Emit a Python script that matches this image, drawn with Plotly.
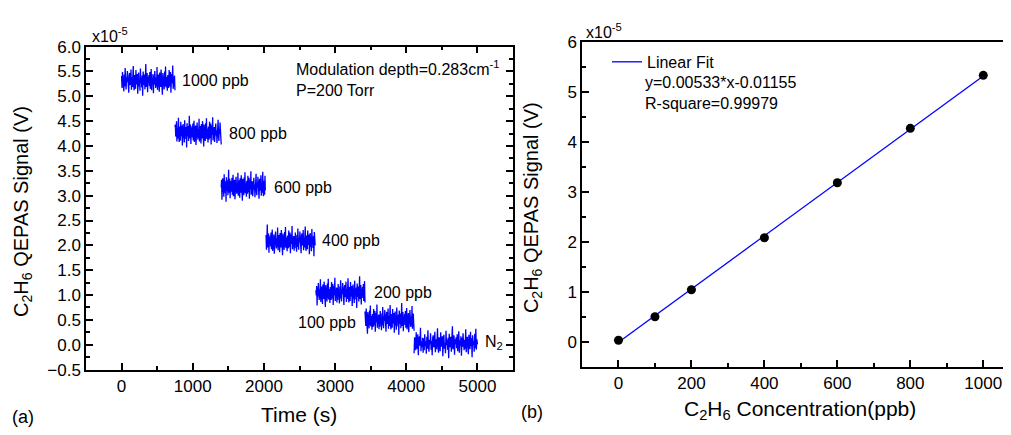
import plotly.graph_objects as go

# page body has an 8px default margin; figure is sized to fill the rest of the window
OFF = 8
W, H = 1011 - OFF, 435 - OFF

# ---------------- data ----------------
# Panel (a): time series segments (concentration steps)
seg_labels = ["1000 ppb", "800 ppb", "600 ppb", "400 ppb", "200 ppb", "100 ppb", "N<sub>2</sub>"]
seg_start = [0, 750, 1400, 2030, 2730, 3420, 4110]        # s
seg_end = [750, 1400, 2020, 2720, 3420, 4110, 5000]       # s
seg_mean = [5.31, 4.27, 3.18, 2.08, 1.04, 0.50, 0.03]     # x1e-5 V
# hand-typed noise deviations (x0.01 of 1e-5 V)
noise = [10, -14, 18, -6, 4, -21, 13, -11, 26, -5, -17, 7, -2, 20, -13, 5, -24, 11, 16, -8,
         -4, 23, -18, 8, -12, 2, 30, -10, -19, 12, 6, -16, 22, -7, -1, 14, -26, 10, 17, -11,
         1, -20, 25, -4, 7, -13, 11, -30, 19, 4, -8, 13, -17, 5, 34, -12, -6, 16, -23, 8,
         -2, 12, -10, 18, -16, 2, 24, -19, 6, -5, 14, -25, 11, -7, 20, -1, -14, 7, -11, 28,
         -18, 4, 13, -8, -22, 17, 0, -12, 23, -6, 10, -28, 16, -4, 5, -17, 19, -10, 29, -13,
         8, -2, -20, 12, 1, -14, 22, -7, -11, 18, -24, 6, 14, -5, 31, -16, 4, -8, 11, -19]
# label positions (data coords)
lab_x = [815, 1475, 2120, 2795, 3525, 3315, 5084]
lab_y = [5.31, 4.25, 3.17, 2.10, 1.06, 0.44, 0.04]
lab_anchor = ["left", "left", "left", "left", "left", "right", "left"]

# Panel (b): calibration
conc = [0, 100, 200, 400, 600, 800, 1000]                 # ppb
signal = [0.03, 0.50, 1.04, 2.08, 3.18, 4.27, 5.33]       # x1e-5 V
fit_slope = 0.00533
fit_intercept = -0.01155
fit_x = [0, 1000]

# ---------------- figure ----------------
def px(x):
    return (x - OFF) / W

def py(y):
    return 1 - (y - OFF) / H

FONT = "Arial, Liberation Sans, sans-serif"
BLUE = "#0000FF"

fig = go.Figure()

n = len(noise)
for k in range(len(seg_mean)):
    t0, t1 = seg_start[k], seg_end[k]
    xs = [t0 + (t1 - t0) * i / (n - 1) for i in range(n)]
    ys = [seg_mean[k] + 0.01 * noise[(i + 17 * k) % n] for i in range(n)]
    fig.add_trace(go.Scatter(x=xs, y=ys, mode="lines", line=dict(color=BLUE, width=1.3),
                             xaxis="x", yaxis="y", showlegend=False, hoverinfo="skip"))

fig.add_trace(go.Scatter(x=fit_x, y=[fit_slope * v + fit_intercept for v in fit_x],
                         mode="lines", line=dict(color=BLUE, width=1.3),
                         name="Linear Fit", xaxis="x2", yaxis="y2", showlegend=True))
fig.add_trace(go.Scatter(x=conc, y=signal, mode="markers",
                         marker=dict(color="black", size=9),
                         xaxis="x2", yaxis="y2", showlegend=False))

axis_common = dict(showgrid=False, zeroline=False, showline=True, linecolor="black",
                   linewidth=1.5, ticks="inside", ticklen=7, tickwidth=1.5, tickcolor="black",
                   tickfont=dict(family=FONT, size=17, color="black"))

layout = dict(
    width=W, height=H, margin=dict(l=0, r=0, t=0, b=0),
    paper_bgcolor="white", plot_bgcolor="white",
    font=dict(family=FONT, color="black"),
    xaxis=dict(domain=[px(86), px(513)], range=[-500, 5500], tick0=0, dtick=1000,
               mirror="allticks", anchor="y",
               minor=dict(ticks="inside", ticklen=4, dtick=500, tick0=0, tickwidth=1.5, tickcolor="black"),
               **axis_common),
    yaxis=dict(domain=[py(377), py(39)], range=[-0.5, 6.0], tick0=0, dtick=0.5,
               tickformat=".1f", mirror="allticks", anchor="x",
               minor=dict(ticks="inside", ticklen=4, dtick=0.25, tick0=0, tickwidth=1.5, tickcolor="black"),
               **axis_common),
    xaxis2=dict(domain=[px(582), 1.0], range=[-100, 1076], tick0=0, dtick=200,
                mirror=True, anchor="y2",
                minor=dict(ticks="inside", ticklen=4, dtick=100, tick0=0, tickwidth=1.5, tickcolor="black"),
                **axis_common),
    yaxis2=dict(domain=[py(374), py(34)], range=[-0.5, 6.0], tick0=0, dtick=1,
                anchor="x2",
                minor=dict(ticks="inside", ticklen=4, dtick=0.5, tick0=0, tickwidth=1.5, tickcolor="black"),
                **axis_common),
    showlegend=True,
    legend=dict(x=px(607), y=py(55), xanchor="left", yanchor="middle",
                bgcolor="rgba(0,0,0,0)", font=dict(family=FONT, size=16, color="black"),
                itemwidth=30),
)
fig.update_layout(**layout)

ann = []
for k in range(len(seg_labels)):
    ann.append(dict(x=lab_x[k], y=lab_y[k], xref="x", yref="y", text=seg_labels[k],
                    showarrow=False, xanchor=lab_anchor[k], yanchor="middle",
                    font=dict(family=FONT, size=16, color="black")))

ann.append(dict(x=2416, y=5.365, xref="x", yref="y",
                text="Modulation depth=0.283cm<sup>-1</sup><br>P=200 Torr",
                showarrow=False, xanchor="left", yanchor="middle", align="left",
                font=dict(family=FONT, size=16, color="black")))
ann.append(dict(x=px(643), y=py(88), xref="paper", yref="paper",
                text="y=0.00533*x-0.01155<br>R-square=0.99979",
                showarrow=False, xanchor="left", yanchor="middle", align="left",
                font=dict(family=FONT, size=16, color="black")))

# exponent labels
ann.append(dict(x=px(90), y=py(27), xref="paper", yref="paper", text="x10<sup>-5</sup>",
                showarrow=False, xanchor="left", yanchor="middle",
                font=dict(family=FONT, size=16, color="black")))
ann.append(dict(x=px(584), y=py(23), xref="paper", yref="paper", text="x10<sup>-5</sup>",
                showarrow=False, xanchor="left", yanchor="middle",
                font=dict(family=FONT, size=16, color="black")))

# axis titles
ann.append(dict(x=px(299), y=py(424), xref="paper", yref="paper", text="Time (s)",
                showarrow=False, xanchor="center", yanchor="middle",
                font=dict(family=FONT, size=21, color="black")))
ann.append(dict(x=px(800), y=py(419), xref="paper", yref="paper",
                text="C<sub>2</sub>H<sub>6</sub> Concentration(ppb)",
                showarrow=False, xanchor="center", yanchor="middle",
                font=dict(family=FONT, size=21, color="black")))
ann.append(dict(x=px(23), y=py(212), xref="paper", yref="paper",
                text="C<sub>2</sub>H<sub>6</sub> QEPAS Signal (V)", textangle=-90,
                showarrow=False, xanchor="center", yanchor="middle",
                font=dict(family=FONT, size=20, color="black")))
ann.append(dict(x=px(532), y=py(208), xref="paper", yref="paper",
                text="C<sub>2</sub>H<sub>6</sub> QEPAS Signal (V)", textangle=-90,
                showarrow=False, xanchor="center", yanchor="middle",
                font=dict(family=FONT, size=20, color="black")))

# panel labels
ann.append(dict(x=px(23), y=py(427), xref="paper", yref="paper", text="(a)",
                showarrow=False, xanchor="center", yanchor="middle",
                font=dict(family=FONT, size=18, color="black")))
ann.append(dict(x=px(532), y=py(421), xref="paper", yref="paper", text="(b)",
                showarrow=False, xanchor="center", yanchor="middle",
                font=dict(family=FONT, size=18, color="black")))

fig.update_layout(annotations=ann)
fig.write_html("out.html")
